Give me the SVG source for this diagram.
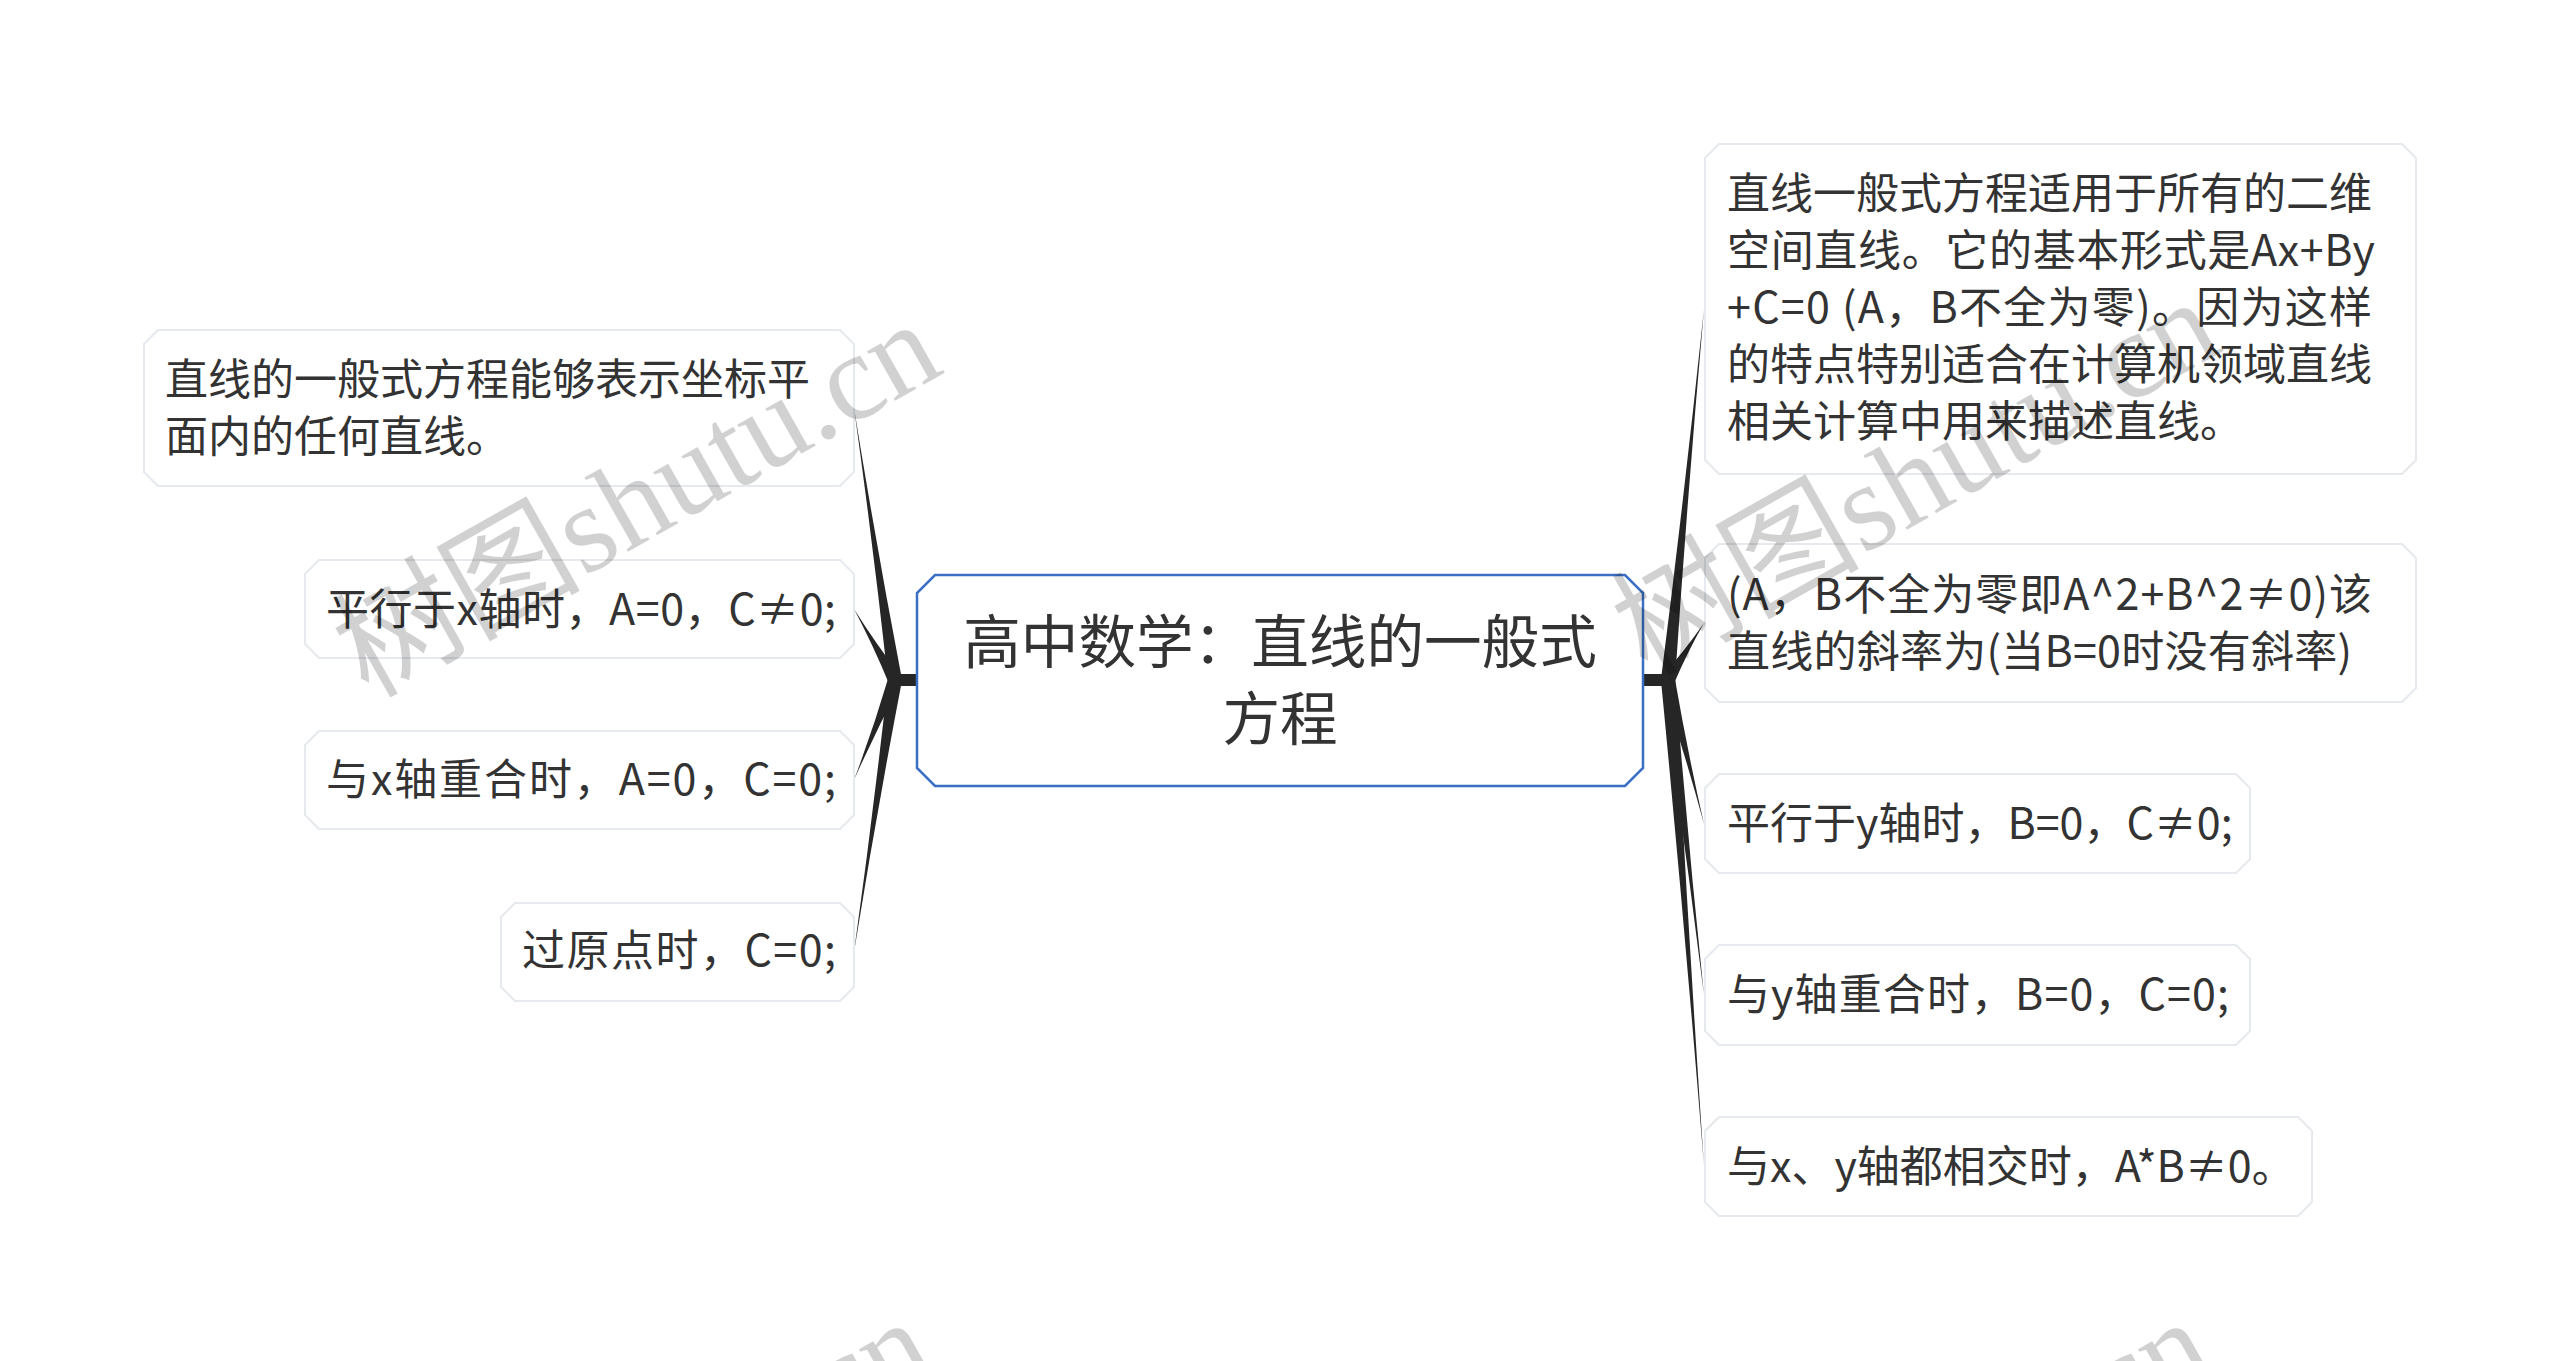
<svg xmlns="http://www.w3.org/2000/svg" width="2560" height="1361" viewBox="0 0 2560 1361">
<style>
.node{fill:#ffffff;stroke:#e6e9ed;stroke-width:2}
.root{fill:#ffffff;stroke:#3a6fc4;stroke-width:2.5}
.t{font-family:"Noto Sans CJK SC","Noto Sans",sans-serif;font-size:43px;fill:#333333}
.rt{font-family:"Noto Sans CJK SC","Noto Sans",sans-serif;font-size:57.6px;fill:#333333;text-anchor:middle}
.br{fill:#262626;stroke:none}
.wm{font-family:"Liberation Serif","Noto Sans CJK SC",serif;font-size:124px;fill:#000000;fill-opacity:0.18}
</style>
<rect x="0" y="0" width="2560" height="1361" fill="#ffffff"/>
<g id="connectors">
<rect class="br" x="893" y="674" width="25" height="12"/>
<rect class="br" x="1642" y="674" width="28" height="12"/>
<path class="br" d="M901.9,679 Q876,543.8 854,408 Q873,544.2 888.1,681 Z"/>
<path class="br" d="M901.1,676.5 Q875.8,643.75 854,609 Q873.2,645.25 888.9,683.5 Z"/>
<path class="br" d="M888.5,677.3 Q873.1,729.4 854,780 Q875.9,730.6 901.5,682.7 Z"/>
<path class="br" d="M888.1,679 Q873,815.8 854,952 Q876,816.2 901.9,681 Z"/>
<path class="br" d="M1675,680.7 Q1687.5,494.6 1704,309 Q1684.5,494.4 1661,679.3 Z"/>
<path class="br" d="M1673.9,683.7 Q1687.3,652.3 1704,623 Q1684.7,650.7 1662.1,676.3 Z"/>
<path class="br" d="M1661.2,681.7 Q1684.5,752.4 1704,824 Q1687.5,751.6 1674.8,678.3 Z"/>
<path class="br" d="M1661,680.8 Q1684.5,837.7 1704,995 Q1687.5,837.3 1675,679.2 Z"/>
<path class="br" d="M1661,680.5 Q1684.5,923.1 1704,1166 Q1687.5,922.9 1675,679.5 Z"/>
</g>
<g id="root">
<path class="root" d="M935,575 H1625 L1643,593 V768 L1625,786 H935 L917,768 V593 Z"/>
<text class="rt" x="1280" y="663">高中数学：直线的一般式</text>
<text class="rt" x="1280" y="740">方程</text>
</g>
<g id="L1">
<path class="node" d="M158,330 H840 L854,344 V472 L840,486 H158 L144,472 V344 Z"/>
<text class="t" x="165" y="395">直线的一般式方程能够表示坐标平</text>
<text class="t" x="165" y="452">面内的任何直线。</text>
</g>
<g id="L2">
<path class="node" d="M319,560 H840 L854,574 V644 L840,658 H319 L305,644 V574 Z"/>
<text class="t" x="326" y="625" textLength="510" lengthAdjust="spacing">平行于x轴时，A=0，C≠0;</text>
</g>
<g id="L3">
<path class="node" d="M319,731 H840 L854,745 V815 L840,829 H319 L305,815 V745 Z"/>
<text class="t" x="326" y="795" textLength="510" lengthAdjust="spacing">与x轴重合时，A=0，C=0;</text>
</g>
<g id="L4">
<path class="node" d="M515,903 H840 L854,917 V987 L840,1001 H515 L501,987 V917 Z"/>
<text class="t" x="522" y="966" textLength="314" lengthAdjust="spacing">过原点时，C=0;</text>
</g>
<g id="R1">
<path class="node" d="M1719,144 H2402 L2416,158 V460 L2402,474 H1719 L1705,460 V158 Z"/>
<text class="t" x="1727" y="209">直线一般式方程适用于所有的二维</text>
<text class="t" x="1727" y="266" textLength="648" lengthAdjust="spacing">空间直线。它的基本形式是Ax+By</text>
<text class="t" x="1727" y="323" textLength="645" lengthAdjust="spacing">+C=0 (A，B不全为零)。因为这样</text>
<text class="t" x="1727" y="380">的特点特别适合在计算机领域直线</text>
<text class="t" x="1727" y="437">相关计算中用来描述直线。</text>
</g>
<g id="R2">
<path class="node" d="M1719,544 H2402 L2416,558 V688 L2402,702 H1719 L1705,688 V558 Z"/>
<text class="t" x="1727" y="610" textLength="645" lengthAdjust="spacing">(A，B不全为零即A^2+B^2≠0)该</text>
<text class="t" x="1727" y="667" textLength="625" lengthAdjust="spacing">直线的斜率为(当B=0时没有斜率)</text>
</g>
<g id="R3">
<path class="node" d="M1719,774 H2236 L2250,788 V859 L2236,873 H1719 L1705,859 V788 Z"/>
<text class="t" x="1727" y="839">平行于y轴时，B=0，C≠0;</text>
</g>
<g id="R4">
<path class="node" d="M1719,945 H2236 L2250,959 V1031 L2236,1045 H1719 L1705,1031 V959 Z"/>
<text class="t" x="1727" y="1010" textLength="502" lengthAdjust="spacing">与y轴重合时，B=0，C=0;</text>
</g>
<g id="R5">
<path class="node" d="M1719,1117 H2298 L2312,1131 V1202 L2298,1216 H1719 L1705,1202 V1131 Z"/>
<text class="t" x="1727" y="1182">与x、y轴都相交时，A*B≠0。</text>
</g>
<g id="watermark">
<text class="wm" transform="translate(368,699) rotate(-29.5)">树图shutu.cn</text>
<text class="wm" transform="translate(1647,677) rotate(-29.5)">树图shutu.cn</text>
<text class="wm" transform="translate(360,1697) rotate(-29.5)">树图shutu.cn</text>
<text class="wm" transform="translate(1639,1697) rotate(-29.5)">树图shutu.cn</text>
</g>
</svg>
